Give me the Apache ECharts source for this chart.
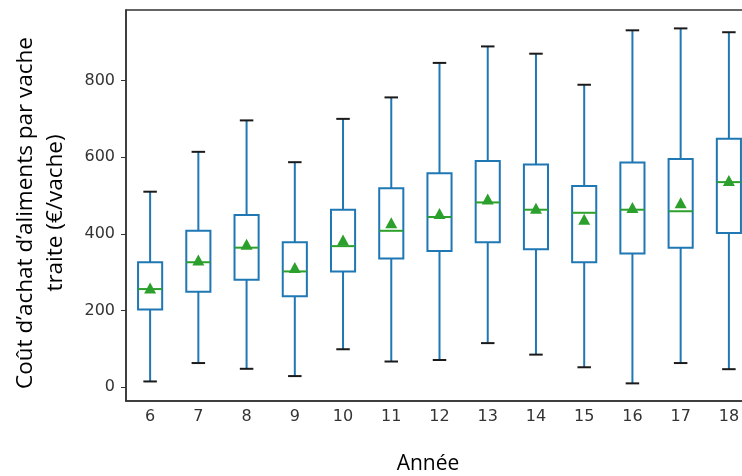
<!DOCTYPE html>
<html lang="fr">

<head>
    <meta charset="UTF-8">
    <title>Coût d'achat d'aliments</title>
    <style>
        html, body { margin: 0; padding: 0; background: #fff; overflow: hidden; }
        /* le cadre du graphique dépasse un peu à droite, comme sur l'original */
        #main { width: 753px; height: 476px; }
    </style>
</head>

<body>
    <div id="main"></div>
</body>
<script src="https://cdn.jsdelivr.net/npm/echarts@6.0.0/dist/echarts.min.js"></script>
<script>
    // valeurs (€/vache)
    const years = ['6', '7', '8', '9', '10', '11', '12', '13', '14', '15', '16', '17', '18'];
    const whiskerLow = [15, 63, 48, 29, 99, 67, 71, 115, 85, 52, 10, 63, 47];
    const q1 = [203, 249, 280, 237, 302, 336, 355, 378, 360, 326, 349, 364, 402];
    const median = [256, 326, 364, 302, 368, 408, 444, 482, 463, 455, 463, 459, 535];
    const q3 = [326, 408, 449, 378, 463, 519, 558, 590, 581, 525, 586, 595, 648];
    const whiskerHigh = [510, 614, 696, 587, 700, 756, 846, 889, 870, 789, 931, 936, 926];
    const mean = [259, 332, 373, 312, 384, 429, 453, 491, 467, 438, 469, 481, 539];
    const yTicks = [0, 200, 400, 600, 800];

    const blue = '#1f77b4';
    const green = '#2ca02c';

    const boxData = years.map((y, i) => [i, whiskerLow[i], q1[i], median[i], q3[i], whiskerHigh[i]]);
    const meanData = years.map((y, i) => [i, mean[i]]);

    function renderBox(params, api) {
        const i = api.value(0);
        const pLow = api.coord([i, api.value(1)]);
        const pQ1 = api.coord([i, api.value(2)]);
        const pMed = api.coord([i, api.value(3)]);
        const pQ3 = api.coord([i, api.value(4)]);
        const pHigh = api.coord([i, api.value(5)]);
        const band = api.size([1, 0])[0];
        const bw = band * 0.5;
        const cw = band * 0.28;
        const cx = pMed[0];
        const line = (x1, y1, x2, y2, color) => ({
            type: 'line',
            shape: { x1, y1, x2, y2 },
            style: { stroke: color, lineWidth: 2 }
        });
        return {
            type: 'group',
            children: [
                line(cx, pLow[1], cx, pQ1[1], blue),
                line(cx, pQ3[1], cx, pHigh[1], blue),
                line(cx - cw / 2, pLow[1], cx + cw / 2, pLow[1], '#1a1a1a'),
                line(cx - cw / 2, pHigh[1], cx + cw / 2, pHigh[1], '#1a1a1a'),
                {
                    type: 'rect',
                    shape: { x: cx - bw / 2, y: pQ3[1], width: bw, height: pQ1[1] - pQ3[1] },
                    style: { fill: 'rgba(0,0,0,0)', stroke: blue, lineWidth: 2 }
                },
                line(cx - bw / 2, pMed[1], cx + bw / 2, pMed[1], green)
            ]
        };
    }

    const chart = echarts.init(document.getElementById('main'));
    chart.setOption({
        backgroundColor: '#fff',
        animation: false,
        grid: {
            left: 126,
            top: 10,
            right: 0,
            bottom: 75,
            show: true,
            borderColor: '#333',
            borderWidth: 1.5
        },
        xAxis: {
            type: 'category',
            data: years,
            boundaryGap: true,
            axisLine: { onZero: false, lineStyle: { color: '#333', width: 1.5 } },
            axisTick: { alignWithLabel: true, length: 5, lineStyle: { color: '#333' } },
            axisLabel: { color: '#333', fontFamily: 'DejaVu Sans', fontSize: 16, margin: 8 },
            splitLine: { show: false }
        },
        yAxis: {
            type: 'value',
            min: -36,
            max: 984,
            axisLine: { show: true, lineStyle: { color: '#333', width: 1.5 } },
            axisTick: { show: true, length: 5, lineStyle: { color: '#333' }, customValues: yTicks },
            axisLabel: { color: '#333', fontFamily: 'DejaVu Sans', fontSize: 16, margin: 11, customValues: yTicks },
            splitLine: { show: false }
        },
        graphic: [
            {
                type: 'text',
                x: 428,
                y: 464,
                style: {
                    text: 'Année',
                    font: '21px "Open Sans"',
                    fill: '#000',
                    textAlign: 'center',
                    textVerticalAlign: 'middle'
                }
            },
            {
                type: 'text',
                x: 41,
                y: 213,
                rotation: Math.PI / 2,
                style: {
                    text: 'Coût d\u2019achat d\u2019aliments par vache\ntraite (€/vache)',
                    font: '22.5px "Open Sans"',
                    lineHeight: 30,
                    fill: '#000',
                    textAlign: 'center',
                    textVerticalAlign: 'middle'
                }
            }
        ],
        series: [
            {
                type: 'custom',
                renderItem: renderBox,
                encode: { x: 0, y: [1, 2, 3, 4, 5] },
                data: boxData
            },
            {
                type: 'scatter',
                symbol: 'triangle',
                symbolSize: [12, 11],
                itemStyle: { color: green, opacity: 1 },
                data: meanData
            }
        ]
    });
</script>

</html>
